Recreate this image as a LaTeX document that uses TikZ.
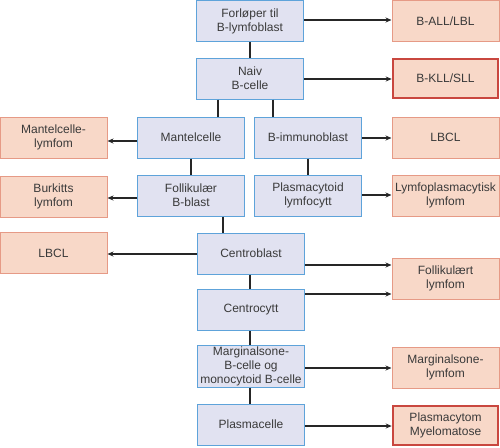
\documentclass[tikz,border=0pt]{standalone}
\usepackage{fontspec}
\setmainfont{Liberation Sans}
\usetikzlibrary{arrows.meta}
\definecolor{bfill}{HTML}{E1E2F1}
\definecolor{bline}{HTML}{5EA3DA}
\definecolor{rfill}{HTML}{F8D8C8}
\definecolor{rline}{HTML}{E69A86}
\definecolor{rthick}{HTML}{C9473F}
\definecolor{txt}{HTML}{3A3A3A}
\begin{document}
\begin{tikzpicture}[x=1pt,y=-1pt,
 box/.style={rectangle, minimum width=107pt, minimum height=41pt, inner sep=1pt, align=center, font=\fontsize{12}{14}\selectfont, text=txt},
 cell/.style={box, draw=bline, fill=bfill, line width=1pt},
 lym/.style={box, draw=rline, fill=rfill, line width=1pt},
 lymk/.style={box, draw=rthick, fill=rfill, line width=2.6pt, minimum width=105pt, minimum height=39pt},
 con/.style={line width=1.3pt, draw=black!85},
 arr/.style={con, -{Stealth[length=6pt,width=5pt]}}]
\useasboundingbox (0,0) rectangle (500,447);
% cells
\node[cell] (fl) at (250,21) {Forløper til\\B-lymfoblast};
\node[cell] (naiv) at (250,78.5) {Naiv\\B-celle};
\node[cell] (mantel) at (191,137.5) {Mantelcelle};
\node[cell] (bimm) at (308,137.5) {B-immunoblast};
\node[cell] (follik) at (191,195.5) {Follikulær\\B-blast};
\node[cell] (plcyt) at (308,195.5) {Plasmacytoid\\lymfocytt};
\node[cell] (cb) at (251,253.5) {Centroblast};
\node[cell] (cc) at (251,310) {Centrocytt};
\node[cell] (marg) at (251,366.5) {Marginalsone-\\B-celle og\\monocytoid B-celle};
\node[cell] (pc) at (251,424.5) {Plasmacelle};
% lymphomas
\node[lym] (ball) at (445.5,21) {B-ALL/LBL};
\node[lymk] (bkll) at (445.5,78.5) {B-KLL/SLL};
\node[lym] (lbclr) at (445.5,137.5) {LBCL};
\node[lym] (lympl) at (445.5,195.5) {Lymfoplasmacytisk\\lymfom};
\node[lym] (follly) at (445.5,278.5) {Follikulært\\lymfom};
\node[lym] (margly) at (445.5,367.5) {Marginalsone-\\lymfom};
\node[lymk] (plasm) at (445.5,425.5) {Plasmacytom\\Myelomatose};
\node[lym] (mantly) at (53.5,137.5) {Mantelcelle-\\lymfom};
\node[lym] (burk) at (53.5,196.5) {Burkitts\\lymfom};
\node[lym] (lbcll) at (53.5,253) {LBCL};
% vertical links
\draw[con] (fl.south) -- (naiv.north);
\draw[con] (naiv.south -| 218,0) -- (mantel.north -| 218,0);
\draw[con] (naiv.south -| 273,0) -- (bimm.north -| 273,0);
\draw[con] (mantel.south) -- (follik.north);
\draw[con] (bimm.south) -- (plcyt.north);
\draw[con] (follik.south -| 223,0) -- (cb.north -| 223,0);
\draw[con] (cb.south -| 250,0) -- (cc.north -| 250,0);
\draw[con] (cc.south -| 250,0) -- (marg.north -| 250,0);
\draw[con] (marg.south -| 250,0) -- (pc.north -| 250,0);
% arrows
\draw[arr] (fl.east |- 0,20) -- (ball.west |- 0,20);
\draw[arr] (naiv.east |- 0,79) -- (bkll.west |- 0,79);
\draw[arr] (mantel.west |- 0,141) -- (mantly.east |- 0,141);
\draw[arr] (bimm.east |- 0,138) -- (lbclr.west |- 0,138);
\draw[arr] (follik.west |- 0,198) -- (burk.east |- 0,198);
\draw[arr] (plcyt.east |- 0,195) -- (lympl.west |- 0,195);
\draw[arr] (cb.west |- 0,254) -- (lbcll.east |- 0,254);
\draw[arr] (cb.east |- 0,265) -- (follly.west |- 0,265);
\draw[arr] (cc.east |- 0,294) -- (follly.west |- 0,294);
\draw[arr] (marg.east |- 0,368) -- (margly.west |- 0,368);
\draw[arr] (pc.east |- 0,426) -- (plasm.west |- 0,426);
\end{tikzpicture}
\end{document}
